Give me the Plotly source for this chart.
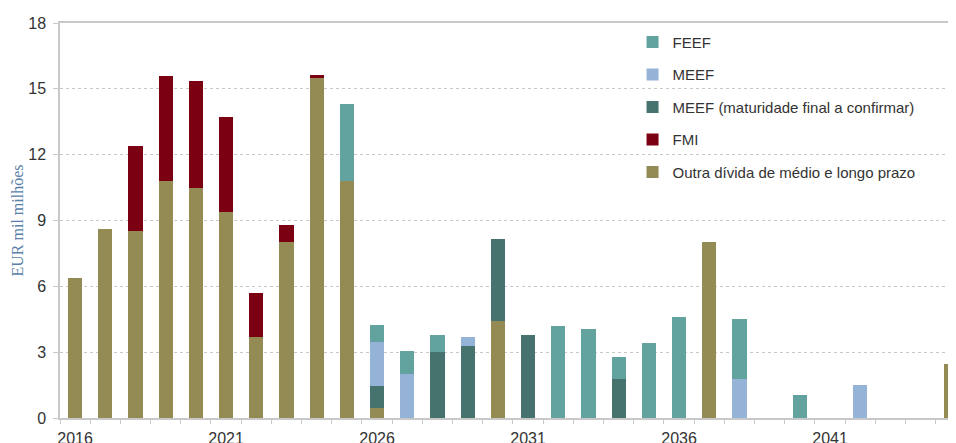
import plotly.graph_objects as go

years = [str(y) for y in range(2016, 2046)]
tick_labels = [y if (int(y) - 2016) % 5 == 0 else "" for y in years]

outra = [6.4, 8.6, 8.5, 10.8, 10.5, 9.4, 3.7, 8.0, 15.5, 10.8,
         0.45, None, None, None, 4.4, None, None, None, None, None,
         None, 8.0, None, None, None, None, None, None, None, 2.45]
fmi = [None, None, 3.9, 4.8, 4.85, 4.3, 2.0, 0.8, 0.15, None,
       None, None, None, None, None, None, None, None, None, None,
       None, None, None, None, None, None, None, None, None, None]
meef_conf = [None, None, None, None, None, None, None, None, None, None,
             1.0, None, 3.0, 3.3, 3.75, 3.76, None, None, 1.8, None,
             None, None, None, None, None, None, None, None, None, None]
meef = [None, None, None, None, None, None, None, None, None, None,
        2.0, 2.0, None, 0.4, None, None, None, None, None, None,
        None, None, 1.8, None, None, None, 1.5, None, None, None]
feef = [None, None, None, None, None, None, None, None, None, 3.5,
        0.8, 1.05, 0.8, None, None, None, 4.2, 4.05, 1.0, 3.43,
        4.6, None, 2.7, None, 1.05, None, None, None, None, None]

series = [
    ("Outra dívida de médio e longo prazo", outra, "#948A54"),
    ("FMI", fmi, "#7B0012"),
    ("MEEF (maturidade final a confirmar)", meef_conf, "#47736F"),
    ("MEEF", meef, "#95B3D7"),
    ("FEEF", feef, "#62A39F"),
]

fig = go.Figure()
for i, (name, vals, color) in enumerate(series):
    fig.add_trace(go.Bar(
        x=years, y=vals, name=name, legendgroup=name,
        legendrank=1000 - i,
        marker=dict(color=color, line=dict(width=0)),
    ))

fig.update_layout(
    width=948, height=435,
    barmode="stack", bargap=0.525,
    plot_bgcolor="white", paper_bgcolor="white",
    margin=dict(l=52, r=0, t=15, b=25, autoexpand=False),
    font=dict(family="Liberation Sans, Arial, sans-serif", size=16, color="#333333"),
    legend=dict(
        x=0.639, y=0.993, xanchor="left", yanchor="top",
        traceorder="grouped", tracegroupgap=10,
        bgcolor="rgba(0,0,0,0)", font=dict(size=15, color="#333333"),
        itemwidth=30,
    ),
    xaxis=dict(
        type="category", tickmode="array", tickvals=years, ticktext=tick_labels,
        range=[-0.5, 29.17], showline=True, linecolor="#C8C8C8", linewidth=1.5,
        mirror=True, ticks="outside", tickson="boundaries", ticklen=4,
        tickcolor="#C8C8C8", showgrid=False, tickangle=0, ticklabelstandoff=5,
        automargin=False,
    ),
    yaxis=dict(
        range=[0, 18], dtick=3, tick0=0, showline=True, linecolor="#C8C8C8",
        linewidth=1.5, ticks="outside", ticklen=5, tickcolor="#C8C8C8",
        showgrid=True, gridcolor="#C8C8C8", griddash="dot", gridwidth=1,
        zeroline=False, ticklabelstandoff=4, automargin=False,
        title=dict(text="EUR mil milhões", standoff=1,
                   font=dict(family="Liberation Serif, Times New Roman, serif",
                             size=16, color="#5A7FA8")),
    ),
)

fig.write_html("out.html")
